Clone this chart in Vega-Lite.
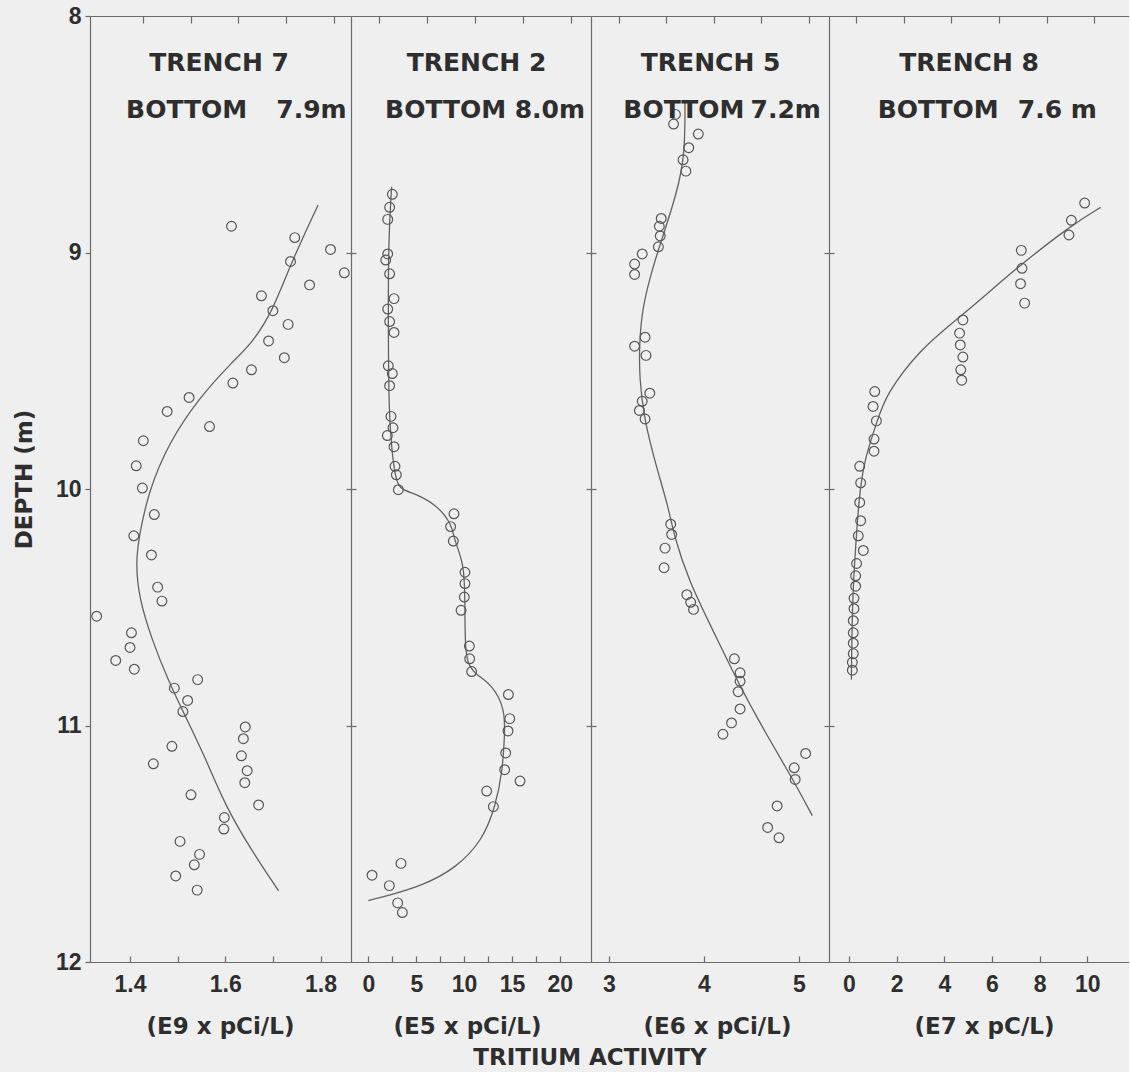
{
  "$schema": "https://vega.github.io/schema/vega-lite/v6.json",
  "background": "#efefef",
  "padding": {"left": 13, "top": 5, "right": 0, "bottom": 2},
  "spacing": 0,
  "bounds": "flush",
  "title": {
    "text": "TRITIUM ACTIVITY",
    "orient": "bottom",
    "anchor": "middle",
    "frame": "group",
    "dx": 500,
    "offset": 9,
    "font": "DejaVu Sans",
    "fontWeight": "bold",
    "fontSize": 23,
    "color": "#2e2e2e"
  },
  "config": {
    "view": {"stroke": null},
    "axis": {
      "grid": false,
      "domainColor": "#6a6a6a",
      "domainWidth": 1.2,
      "tickColor": "#6a6a6a",
      "tickWidth": 1.2,
      "labelFont": "Liberation Sans",
      "labelFontWeight": "bold",
      "labelFontSize": 23,
      "labelColor": "#2e2e2e",
      "titleFont": "DejaVu Sans",
      "titleFontWeight": "bold",
      "titleFontSize": 23,
      "titleColor": "#2e2e2e",
      "labelFlush": false,
      "labelOverlap": false
    },
    "text": {"font": "DejaVu Sans", "fontWeight": "bold", "fontSize": 25, "fill": "#2e2e2e", "align": "center", "baseline": "middle"},
    "point": {"shape": "circle", "filled": false, "stroke": "#575757", "strokeWidth": 1.2, "size": 95, "opacity": 1},
    "line": {"interpolate": "basis", "stroke": "#626262", "strokeWidth": 1.3}
  },
  "resolve": {"scale": {"x": "independent", "y": "independent"}},
  "datasets": {
    "trench7_samples": [
      {"activity": 1.613, "depth": 8.889}, {"activity": 1.746, "depth": 8.937}, {"activity": 1.821, "depth": 8.987},
      {"activity": 1.737, "depth": 9.038}, {"activity": 1.850, "depth": 9.086}, {"activity": 1.777, "depth": 9.137},
      {"activity": 1.676, "depth": 9.183}, {"activity": 1.700, "depth": 9.246}, {"activity": 1.732, "depth": 9.304},
      {"activity": 1.691, "depth": 9.374}, {"activity": 1.724, "depth": 9.445}, {"activity": 1.655, "depth": 9.496},
      {"activity": 1.616, "depth": 9.552}, {"activity": 1.524, "depth": 9.613}, {"activity": 1.478, "depth": 9.672},
      {"activity": 1.567, "depth": 9.736}, {"activity": 1.428, "depth": 9.796}, {"activity": 1.413, "depth": 9.902},
      {"activity": 1.426, "depth": 9.996}, {"activity": 1.451, "depth": 10.108}, {"activity": 1.408, "depth": 10.198},
      {"activity": 1.445, "depth": 10.279}, {"activity": 1.458, "depth": 10.415}, {"activity": 1.467, "depth": 10.474},
      {"activity": 1.330, "depth": 10.538}, {"activity": 1.403, "depth": 10.608}, {"activity": 1.400, "depth": 10.670},
      {"activity": 1.370, "depth": 10.725}, {"activity": 1.409, "depth": 10.762}, {"activity": 1.542, "depth": 10.806},
      {"activity": 1.493, "depth": 10.842}, {"activity": 1.521, "depth": 10.894}, {"activity": 1.511, "depth": 10.941},
      {"activity": 1.642, "depth": 11.006}, {"activity": 1.638, "depth": 11.056}, {"activity": 1.488, "depth": 11.088},
      {"activity": 1.634, "depth": 11.128}, {"activity": 1.449, "depth": 11.162}, {"activity": 1.646, "depth": 11.191},
      {"activity": 1.641, "depth": 11.242}, {"activity": 1.528, "depth": 11.293}, {"activity": 1.670, "depth": 11.336},
      {"activity": 1.598, "depth": 11.389}, {"activity": 1.597, "depth": 11.438}, {"activity": 1.505, "depth": 11.490},
      {"activity": 1.546, "depth": 11.545}, {"activity": 1.535, "depth": 11.589}, {"activity": 1.496, "depth": 11.636},
      {"activity": 1.541, "depth": 11.696}
    ],
    "trench7_fit": [
      {"activity": 1.795, "depth": 8.799}, {"activity": 1.737, "depth": 9.049}, {"activity": 1.700, "depth": 9.246},
      {"activity": 1.656, "depth": 9.384}, {"activity": 1.614, "depth": 9.464}, {"activity": 1.544, "depth": 9.617},
      {"activity": 1.481, "depth": 9.806}, {"activity": 1.439, "depth": 10.010}, {"activity": 1.419, "depth": 10.199},
      {"activity": 1.412, "depth": 10.315}, {"activity": 1.419, "depth": 10.462}, {"activity": 1.446, "depth": 10.638},
      {"activity": 1.481, "depth": 10.813}, {"activity": 1.516, "depth": 10.960}, {"activity": 1.558, "depth": 11.135},
      {"activity": 1.600, "depth": 11.340}, {"activity": 1.656, "depth": 11.531}, {"activity": 1.712, "depth": 11.699}
    ],
    "trench2_samples": [
      {"activity": 2.49, "depth": 8.754}, {"activity": 2.21, "depth": 8.809}, {"activity": 2.01, "depth": 8.860},
      {"activity": 2.01, "depth": 9.006}, {"activity": 1.80, "depth": 9.032}, {"activity": 2.21, "depth": 9.090},
      {"activity": 2.67, "depth": 9.195}, {"activity": 2.01, "depth": 9.239}, {"activity": 2.21, "depth": 9.292},
      {"activity": 2.67, "depth": 9.338}, {"activity": 2.07, "depth": 9.479}, {"activity": 2.49, "depth": 9.512},
      {"activity": 2.21, "depth": 9.563}, {"activity": 2.35, "depth": 9.693}, {"activity": 2.56, "depth": 9.741},
      {"activity": 1.97, "depth": 9.774}, {"activity": 2.67, "depth": 9.821}, {"activity": 2.77, "depth": 9.904},
      {"activity": 2.91, "depth": 9.940}, {"activity": 3.12, "depth": 10.003}, {"activity": 8.94, "depth": 10.105},
      {"activity": 8.59, "depth": 10.159}, {"activity": 8.87, "depth": 10.220}, {"activity": 10.09, "depth": 10.352},
      {"activity": 10.09, "depth": 10.400}, {"activity": 10.02, "depth": 10.457}, {"activity": 9.68, "depth": 10.513},
      {"activity": 10.55, "depth": 10.664}, {"activity": 10.58, "depth": 10.718}, {"activity": 10.79, "depth": 10.772},
      {"activity": 14.63, "depth": 10.869}, {"activity": 14.77, "depth": 10.971}, {"activity": 14.59, "depth": 11.023},
      {"activity": 14.35, "depth": 11.116}, {"activity": 14.24, "depth": 11.187}, {"activity": 15.85, "depth": 11.235},
      {"activity": 12.36, "depth": 11.277}, {"activity": 13.06, "depth": 11.343}, {"activity": 3.40, "depth": 11.583},
      {"activity": 0.37, "depth": 11.633}, {"activity": 2.18, "depth": 11.677}, {"activity": 3.05, "depth": 11.750},
      {"activity": 3.54, "depth": 11.791}
    ],
    "trench2_fit": [
      {"activity": 2.42, "depth": 8.722}, {"activity": 2.07, "depth": 8.947}, {"activity": 2.07, "depth": 9.384},
      {"activity": 2.14, "depth": 9.675}, {"activity": 2.49, "depth": 9.865}, {"activity": 2.91, "depth": 9.967},
      {"activity": 3.36, "depth": 10.003}, {"activity": 5.28, "depth": 10.025}, {"activity": 7.37, "depth": 10.076},
      {"activity": 8.77, "depth": 10.156}, {"activity": 8.94, "depth": 10.213}, {"activity": 9.99, "depth": 10.315},
      {"activity": 10.09, "depth": 10.462}, {"activity": 10.09, "depth": 10.652}, {"activity": 10.34, "depth": 10.740},
      {"activity": 11.21, "depth": 10.784}, {"activity": 12.95, "depth": 10.828}, {"activity": 14.28, "depth": 10.930},
      {"activity": 14.24, "depth": 11.047}, {"activity": 14.00, "depth": 11.194}, {"activity": 13.30, "depth": 11.340},
      {"activity": 11.91, "depth": 11.487}, {"activity": 9.12, "depth": 11.604}, {"activity": 5.63, "depth": 11.677},
      {"activity": 2.14, "depth": 11.718}, {"activity": -0.02, "depth": 11.740}
    ],
    "trench5_samples": [
      {"activity": 3.70, "depth": 8.416}, {"activity": 3.68, "depth": 8.457}, {"activity": 3.94, "depth": 8.499},
      {"activity": 3.84, "depth": 8.557}, {"activity": 3.78, "depth": 8.608}, {"activity": 3.81, "depth": 8.656},
      {"activity": 3.55, "depth": 8.856}, {"activity": 3.53, "depth": 8.889}, {"activity": 3.54, "depth": 8.930},
      {"activity": 3.52, "depth": 8.976}, {"activity": 3.35, "depth": 9.006}, {"activity": 3.27, "depth": 9.049},
      {"activity": 3.27, "depth": 9.093}, {"activity": 3.38, "depth": 9.358}, {"activity": 3.27, "depth": 9.396},
      {"activity": 3.39, "depth": 9.435}, {"activity": 3.43, "depth": 9.595}, {"activity": 3.35, "depth": 9.629},
      {"activity": 3.32, "depth": 9.668}, {"activity": 3.38, "depth": 9.704}, {"activity": 3.65, "depth": 10.149},
      {"activity": 3.66, "depth": 10.192}, {"activity": 3.59, "depth": 10.250}, {"activity": 3.58, "depth": 10.333},
      {"activity": 3.82, "depth": 10.447}, {"activity": 3.86, "depth": 10.479}, {"activity": 3.89, "depth": 10.509},
      {"activity": 4.32, "depth": 10.718}, {"activity": 4.38, "depth": 10.777}, {"activity": 4.38, "depth": 10.813},
      {"activity": 4.36, "depth": 10.857}, {"activity": 4.38, "depth": 10.930}, {"activity": 4.29, "depth": 10.989},
      {"activity": 4.20, "depth": 11.037}, {"activity": 5.07, "depth": 11.118}, {"activity": 4.95, "depth": 11.179},
      {"activity": 4.96, "depth": 11.228}, {"activity": 4.77, "depth": 11.340}, {"activity": 4.67, "depth": 11.431},
      {"activity": 4.79, "depth": 11.475}
    ],
    "trench5_fit": [
      {"activity": 3.80, "depth": 8.365}, {"activity": 3.80, "depth": 8.583}, {"activity": 3.72, "depth": 8.744},
      {"activity": 3.53, "depth": 8.976}, {"activity": 3.44, "depth": 9.093}, {"activity": 3.35, "depth": 9.239},
      {"activity": 3.32, "depth": 9.384}, {"activity": 3.32, "depth": 9.530}, {"activity": 3.37, "depth": 9.704},
      {"activity": 3.49, "depth": 9.894}, {"activity": 3.63, "depth": 10.083}, {"activity": 3.68, "depth": 10.191},
      {"activity": 3.84, "depth": 10.389}, {"activity": 4.09, "depth": 10.594}, {"activity": 4.37, "depth": 10.828},
      {"activity": 4.65, "depth": 11.033}, {"activity": 4.93, "depth": 11.223}, {"activity": 5.14, "depth": 11.381}
    ],
    "trench8_samples": [
      {"activity": 9.89, "depth": 8.791}, {"activity": 9.33, "depth": 8.864}, {"activity": 9.23, "depth": 8.926},
      {"activity": 7.23, "depth": 8.991}, {"activity": 7.26, "depth": 9.067}, {"activity": 7.20, "depth": 9.132},
      {"activity": 7.37, "depth": 9.214}, {"activity": 4.78, "depth": 9.285}, {"activity": 4.64, "depth": 9.341},
      {"activity": 4.67, "depth": 9.391}, {"activity": 4.78, "depth": 9.442}, {"activity": 4.69, "depth": 9.496},
      {"activity": 4.73, "depth": 9.540}, {"activity": 1.08, "depth": 9.588}, {"activity": 1.01, "depth": 9.651},
      {"activity": 1.15, "depth": 9.712}, {"activity": 1.05, "depth": 9.789}, {"activity": 1.05, "depth": 9.840},
      {"activity": 0.45, "depth": 9.904}, {"activity": 0.49, "depth": 9.974}, {"activity": 0.45, "depth": 10.057},
      {"activity": 0.49, "depth": 10.134}, {"activity": 0.39, "depth": 10.198}, {"activity": 0.60, "depth": 10.260},
      {"activity": 0.32, "depth": 10.315}, {"activity": 0.28, "depth": 10.367}, {"activity": 0.28, "depth": 10.411},
      {"activity": 0.21, "depth": 10.462}, {"activity": 0.21, "depth": 10.506}, {"activity": 0.18, "depth": 10.557},
      {"activity": 0.18, "depth": 10.608}, {"activity": 0.18, "depth": 10.652}, {"activity": 0.18, "depth": 10.696},
      {"activity": 0.14, "depth": 10.733}, {"activity": 0.14, "depth": 10.766}
    ],
    "trench8_fit": [
      {"activity": 10.56, "depth": 8.809}, {"activity": 9.37, "depth": 8.882}, {"activity": 7.13, "depth": 9.057},
      {"activity": 5.74, "depth": 9.180}, {"activity": 4.62, "depth": 9.275}, {"activity": 2.94, "depth": 9.413},
      {"activity": 1.54, "depth": 9.603}, {"activity": 1.19, "depth": 9.712}, {"activity": 0.63, "depth": 9.879},
      {"activity": 0.42, "depth": 10.040}, {"activity": 0.28, "depth": 10.242}, {"activity": 0.14, "depth": 10.462},
      {"activity": 0.10, "depth": 10.806}
    ]
  },
  "hconcat": [
    {
      "width": 261,
      "height": 946,
      "resolve": {"axis": {"x": "independent", "y": "independent"}},
      "layer": [
        {
          "data": {"name": "trench7_fit"},
          "mark": {"type": "line"},
          "encoding": {
            "x": {"field": "activity", "type": "quantitative",
              "scale": {"domain": [1.316, 1.864], "nice": false, "zero": false},
              "axis": {"orient": "bottom", "values": [1.4, 1.5, 1.6, 1.7, 1.8], "format": ".1f",
                "labelExpr": "datum.value == 1.5 || datum.value == 1.7 ? '' : datum.label",
                "tickSize": -6, "labelPadding": 17,
                "title": "(E9 x pCi/L)", "titleX": 130, "titleY": 64, "titleBaseline": "middle"}},
            "y": {"field": "depth", "type": "quantitative",
              "scale": {"domain": [8, 12], "reverse": true, "nice": false, "zero": false},
              "axis": {"orient": "left", "values": [8, 9, 10, 11, 12], "format": "d",
                "tickSize": 5, "labelPadding": 4,
                "title": "DEPTH (m)", "titleX": -66, "titleY": 463, "titleAngle": 270,
                "titleBaseline": "middle", "titleAlign": "center"}},
            "order": {"field": "depth", "type": "quantitative"}
          }
        },
        {
          "data": {"name": "trench7_samples"},
          "mark": {"type": "point"},
          "encoding": {
            "x": {"field": "activity", "type": "quantitative",
              "axis": {"orient": "top", "values": [1.4, 1.5, 1.6, 1.7, 1.8], "labels": false, "title": null,
                "tickSize": -7, "tickOffset": 13}},
            "y": {"field": "depth", "type": "quantitative",
              "axis": {"orient": "right", "values": [9, 10, 11], "labels": false, "title": null,
                "domain": false, "tickSize": 5}}
          }
        },
        {
          "data": {"values": [{}]},
          "mark": {"type": "text"},
          "encoding": {
            "x": {"datum": 1.587, "type": "quantitative", "axis": null},
            "y": {"datum": 8.2, "type": "quantitative", "axis": null},
            "text": {"value": "TRENCH 7"}
          }
        },
        {
          "data": {"values": [{}]},
          "mark": {"type": "text"},
          "encoding": {
            "x": {"datum": 1.519, "type": "quantitative", "axis": null},
            "y": {"datum": 8.396, "type": "quantitative", "axis": null},
            "text": {"value": "BOTTOM"}
          }
        },
        {
          "data": {"values": [{}]},
          "mark": {"type": "text"},
          "encoding": {
            "x": {"datum": 1.781, "type": "quantitative", "axis": null},
            "y": {"datum": 8.396, "type": "quantitative", "axis": null},
            "text": {"value": "7.9m"}
          }
        }
      ]
    },
    {
      "width": 240,
      "height": 946,
      "resolve": {"axis": {"x": "independent", "y": "independent"}},
      "layer": [
        {
          "data": {"name": "trench2_fit"},
          "mark": {"type": "line"},
          "encoding": {
            "x": {"field": "activity", "type": "quantitative",
              "scale": {"domain": [-1.83, 23.27], "nice": false, "zero": false},
              "axis": {"orient": "bottom", "values": [0, 2.5, 5, 7.5, 10, 12.5, 15, 17.5, 20], "format": "d",
                "labelExpr": "datum.value % 5 == 0 ? datum.label : ''",
                "tickSize": -6, "labelPadding": 17,
                "title": "(E5 x pCi/L)", "titleX": 116, "titleY": 64, "titleBaseline": "middle"}},
            "y": {"field": "depth", "type": "quantitative",
              "scale": {"domain": [8, 12], "reverse": true, "nice": false, "zero": false},
              "axis": {"orient": "left", "values": [9, 10, 11], "labels": false, "title": null, "tickSize": 5}},
            "order": {"field": "depth", "type": "quantitative"}
          }
        },
        {
          "data": {"name": "trench2_samples"},
          "mark": {"type": "point"},
          "encoding": {
            "x": {"field": "activity", "type": "quantitative",
              "axis": {"orient": "top", "values": [0, 5, 10, 15, 20], "labels": false, "title": null,
                "tickSize": -7, "tickOffset": 11}},
            "y": {"field": "depth", "type": "quantitative",
              "axis": {"orient": "right", "values": [9, 10, 11], "labels": false, "title": null,
                "domain": false, "tickSize": 5}}
          }
        },
        {
          "data": {"values": [{}]},
          "mark": {"type": "text"},
          "encoding": {
            "x": {"datum": 11.3, "type": "quantitative", "axis": null},
            "y": {"datum": 8.2, "type": "quantitative", "axis": null},
            "text": {"value": "TRENCH 2"}
          }
        },
        {
          "data": {"values": [{}]},
          "mark": {"type": "text"},
          "encoding": {
            "x": {"datum": 8.07, "type": "quantitative", "axis": null},
            "y": {"datum": 8.396, "type": "quantitative", "axis": null},
            "text": {"value": "BOTTOM"}
          }
        },
        {
          "data": {"values": [{}]},
          "mark": {"type": "text"},
          "encoding": {
            "x": {"datum": 18.97, "type": "quantitative", "axis": null},
            "y": {"datum": 8.396, "type": "quantitative", "axis": null},
            "text": {"value": "8.0m"}
          }
        }
      ]
    },
    {
      "width": 238,
      "height": 946,
      "resolve": {"axis": {"x": "independent", "y": "independent"}},
      "layer": [
        {
          "data": {"name": "trench5_fit"},
          "mark": {"type": "line"},
          "encoding": {
            "x": {"field": "activity", "type": "quantitative",
              "scale": {"domain": [2.811, 5.316], "nice": false, "zero": false},
              "axis": {"orient": "bottom", "values": [3, 3.5, 4, 4.5, 5], "format": "d",
                "labelExpr": "datum.value % 1 == 0 ? datum.label : ''",
                "tickSize": -6, "labelPadding": 17,
                "title": "(E6 x pCi/L)", "titleX": 126, "titleY": 64, "titleBaseline": "middle"}},
            "y": {"field": "depth", "type": "quantitative",
              "scale": {"domain": [8, 12], "reverse": true, "nice": false, "zero": false},
              "axis": {"orient": "left", "values": [9, 10, 11], "labels": false, "title": null, "tickSize": 5}},
            "order": {"field": "depth", "type": "quantitative"}
          }
        },
        {
          "data": {"name": "trench5_samples"},
          "mark": {"type": "point"},
          "encoding": {
            "x": {"field": "activity", "type": "quantitative",
              "axis": {"orient": "top", "values": [3, 3.5, 4, 4.5, 5], "labels": false, "title": null,
                "tickSize": -7, "tickOffset": 10}},
            "y": {"field": "depth", "type": "quantitative",
              "axis": {"orient": "right", "values": [9, 10, 11], "labels": false, "title": null,
                "domain": false, "tickSize": 5}}
          }
        },
        {
          "data": {"values": [{}]},
          "mark": {"type": "text"},
          "encoding": {
            "x": {"datum": 4.07, "type": "quantitative", "axis": null},
            "y": {"datum": 8.2, "type": "quantitative", "axis": null},
            "text": {"value": "TRENCH 5"}
          }
        },
        {
          "data": {"values": [{}]},
          "mark": {"type": "text"},
          "encoding": {
            "x": {"datum": 3.789, "type": "quantitative", "axis": null},
            "y": {"datum": 8.396, "type": "quantitative", "axis": null},
            "text": {"value": "BOTTOM"}
          }
        },
        {
          "data": {"values": [{}]},
          "mark": {"type": "text"},
          "encoding": {
            "x": {"datum": 4.86, "type": "quantitative", "axis": null},
            "y": {"datum": 8.396, "type": "quantitative", "axis": null},
            "text": {"value": "7.2m"}
          }
        }
      ]
    },
    {
      "width": 300,
      "height": 946,
      "resolve": {"axis": {"x": "independent", "y": "independent"}},
      "layer": [
        {
          "data": {"name": "trench8_fit"},
          "mark": {"type": "line"},
          "encoding": {
            "x": {"field": "activity", "type": "quantitative",
              "scale": {"domain": [-0.839, 11.75], "nice": false, "zero": false},
              "axis": {"orient": "bottom", "values": [0, 2, 4, 6, 8, 10], "format": "d",
                "tickSize": -6, "labelPadding": 17,
                "title": "(E7 x pC/L)", "titleX": 155, "titleY": 64, "titleBaseline": "middle"}},
            "y": {"field": "depth", "type": "quantitative",
              "scale": {"domain": [8, 12], "reverse": true, "nice": false, "zero": false},
              "axis": {"orient": "left", "values": [9, 10, 11], "labels": false, "title": null, "tickSize": 5}},
            "order": {"field": "depth", "type": "quantitative"}
          }
        },
        {
          "data": {"name": "trench8_samples"},
          "mark": {"type": "point"},
          "encoding": {
            "x": {"field": "activity", "type": "quantitative",
              "axis": {"orient": "top", "values": [0, 2, 4, 6, 8, 10], "labels": false, "title": null,
                "tickSize": -7, "tickOffset": 7}},
            "y": {"field": "depth", "type": "quantitative", "axis": null}
          }
        },
        {
          "data": {"values": [{}]},
          "mark": {"type": "text"},
          "encoding": {
            "x": {"datum": 5.04, "type": "quantitative", "axis": null},
            "y": {"datum": 8.2, "type": "quantitative", "axis": null},
            "text": {"value": "TRENCH 8"}
          }
        },
        {
          "data": {"values": [{}]},
          "mark": {"type": "text"},
          "encoding": {
            "x": {"datum": 3.743, "type": "quantitative", "axis": null},
            "y": {"datum": 8.396, "type": "quantitative", "axis": null},
            "text": {"value": "BOTTOM"}
          }
        },
        {
          "data": {"values": [{}]},
          "mark": {"type": "text"},
          "encoding": {
            "x": {"datum": 8.74, "type": "quantitative", "axis": null},
            "y": {"datum": 8.396, "type": "quantitative", "axis": null},
            "text": {"value": "7.6 m"}
          }
        }
      ]
    }
  ]
}
